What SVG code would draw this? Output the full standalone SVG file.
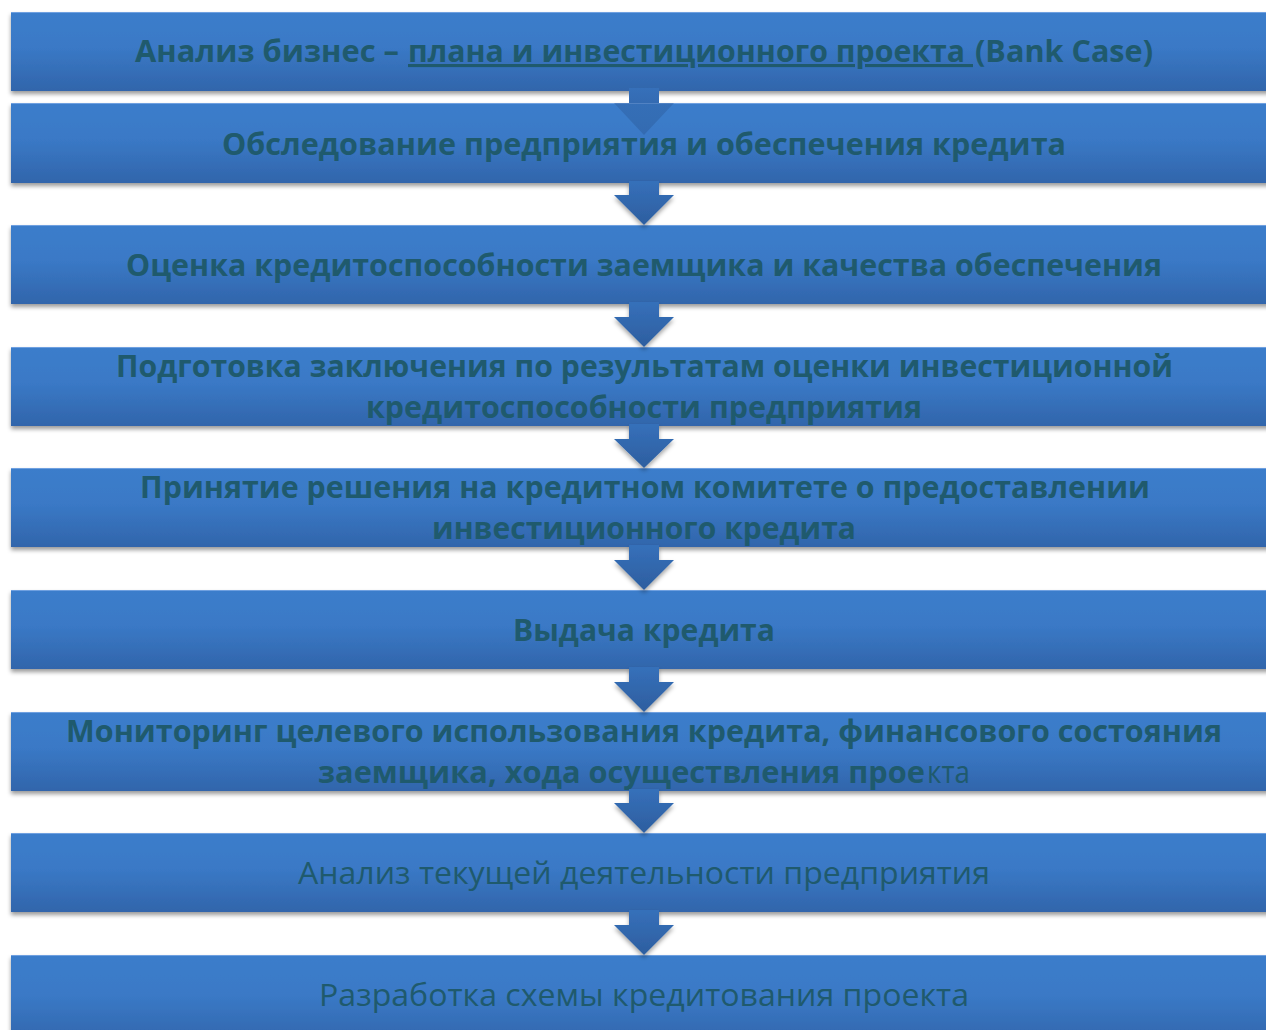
<svg xmlns="http://www.w3.org/2000/svg" width="1266" height="1030" viewBox="0 0 1266 1030">
<style>
.box{fill:url(#boxGrad);filter:url(#shadow)}
.edge{stroke:#6fa0e0;stroke-width:1}
.t{font-family:"Open Sans","Noto Sans","Liberation Sans",sans-serif;font-size:31px;fill:#1f5a6d}
.b{font-weight:bold}
.r{font-weight:normal}
.u{text-decoration:underline}
.arrow{fill:url(#arrGrad);filter:url(#ashadow)}
</style>
<defs>
<linearGradient id="boxGrad" x1="0" y1="0" x2="0" y2="1">
<stop offset="0" stop-color="#3b7dcb"/>
<stop offset="0.45" stop-color="#3a79c6"/>
<stop offset="1" stop-color="#3165ab"/>
</linearGradient>
<linearGradient id="arrGrad" x1="0" y1="0" x2="0" y2="1">
<stop offset="0" stop-color="#3670ba"/>
<stop offset="1" stop-color="#2d5e9f"/>
</linearGradient>
<linearGradient id="arr1Grad" gradientUnits="userSpaceOnUse" x1="0" y1="88" x2="0" y2="135">
<stop offset="0" stop-color="#3670ba" stop-opacity="1"/>
<stop offset="0.31" stop-color="#346bb2" stop-opacity="1"/>
<stop offset="0.32" stop-color="#2d5e9f" stop-opacity="0.45"/>
<stop offset="1" stop-color="#2a5896" stop-opacity="0.45"/>
</linearGradient>
<filter id="shadow" x="-2%" y="-20%" width="104%" height="150%">
<feDropShadow dx="0" dy="3" stdDeviation="2" flood-color="#000" flood-opacity="0.4"/>
</filter>
<filter id="ashadow" x="-30%" y="-20%" width="160%" height="150%">
<feDropShadow dx="0" dy="3" stdDeviation="2" flood-color="#000" flood-opacity="0.35"/>
</filter>
</defs>

<g id="node1">
<rect class="box" x="11" y="12" width="1270" height="79"/>
<line class="edge" x1="11" y1="12.5" x2="1266" y2="12.5"/>
<text class="t b" x="135" y="62" textLength="264" lengthAdjust="spacingAndGlyphs">Анализ бизнес –</text>
<text class="t b u" x="408" y="62" textLength="565" lengthAdjust="spacingAndGlyphs">плана и инвестиционного проекта&#160;</text>
<text class="t b" x="975" y="62" textLength="178" lengthAdjust="spacingAndGlyphs">(Bank Case)</text>
</g>
<g id="node2">
<rect class="box" x="11" y="103" width="1270" height="80"/>
<line class="edge" x1="11" y1="103.5" x2="1266" y2="103.5"/>
<text class="t b" x="222" y="155" textLength="844" lengthAdjust="spacingAndGlyphs">Обследование предприятия и обеспечения кредита</text>
</g>
<g id="node3">
<rect class="box" x="11" y="225" width="1270" height="79"/>
<line class="edge" x1="11" y1="225.5" x2="1266" y2="225.5"/>
<text class="t b" x="126" y="276" textLength="1036" lengthAdjust="spacingAndGlyphs">Оценка кредитоспособности заемщика и качества обеспечения</text>
</g>
<g id="node4">
<rect class="box" x="11" y="347" width="1270" height="79"/>
<line class="edge" x1="11" y1="347.5" x2="1266" y2="347.5"/>
<text class="t b" x="116" y="377" textLength="1057" lengthAdjust="spacingAndGlyphs">Подготовка заключения по результатам оценки инвестиционной</text>
<text class="t b" x="366" y="418" textLength="556" lengthAdjust="spacingAndGlyphs">кредитоспособности предприятия</text>
</g>
<g id="node5">
<rect class="box" x="11" y="468" width="1270" height="79"/>
<line class="edge" x1="11" y1="468.5" x2="1266" y2="468.5"/>
<text class="t b" x="140" y="498" textLength="1010" lengthAdjust="spacingAndGlyphs">Принятие решения на кредитном комитете о предоставлении</text>
<text class="t b" x="432" y="539" textLength="424" lengthAdjust="spacingAndGlyphs">инвестиционного кредита</text>
</g>
<g id="node6">
<rect class="box" x="11" y="590" width="1270" height="79"/>
<line class="edge" x1="11" y1="590.5" x2="1266" y2="590.5"/>
<text class="t b" x="513" y="641" textLength="262" lengthAdjust="spacingAndGlyphs">Выдача кредита</text>
</g>
<g id="node7">
<rect class="box" x="11" y="712" width="1270" height="79"/>
<line class="edge" x1="11" y1="712.5" x2="1266" y2="712.5"/>
<text class="t b" x="66" y="742" textLength="1156" lengthAdjust="spacingAndGlyphs">Мониторинг целевого использования кредита, финансового состояния</text>
<text class="t b" x="318" y="783" textLength="607" lengthAdjust="spacingAndGlyphs">заемщика, хода осуществления прое</text>
<text class="t r" x="927" y="783" textLength="43" lengthAdjust="spacingAndGlyphs">кта</text>
</g>
<g id="node8">
<rect class="box" x="11" y="833" width="1270" height="79"/>
<line class="edge" x1="11" y1="833.5" x2="1266" y2="833.5"/>
<text class="t r" x="298" y="884" textLength="692" lengthAdjust="spacingAndGlyphs">Анализ текущей деятельности предприятия</text>
</g>
<g id="node9">
<rect class="box" x="11" y="955" width="1270" height="90"/>
<line class="edge" x1="11" y1="955.5" x2="1266" y2="955.5"/>
<text class="t r" x="319" y="1006" textLength="650" lengthAdjust="spacingAndGlyphs">Разработка схемы кредитования проекта</text>
</g>

<g id="connectors">
<polygon points="629,88 659,88 659,103 674,103 644,135 614,103 629,103" fill="url(#arr1Grad)"/>
<polygon class="arrow" points="629,181 659,181 659,195 674,195 644,225 614,195 629,195"/>
<polygon class="arrow" points="629,302 659,302 659,317 674,317 644,347 614,317 629,317"/>
<polygon class="arrow" points="629,424 659,424 659,439 674,439 644,468 614,439 629,439"/>
<polygon class="arrow" points="629,545 659,545 659,560 674,560 644,590 614,560 629,560"/>
<polygon class="arrow" points="629,667 659,667 659,682 674,682 644,712 614,682 629,682"/>
<polygon class="arrow" points="629,789 659,789 659,803 674,803 644,833 614,803 629,803"/>
<polygon class="arrow" points="629,910 659,910 659,925 674,925 644,955 614,925 629,925"/>
</g>
</svg>
